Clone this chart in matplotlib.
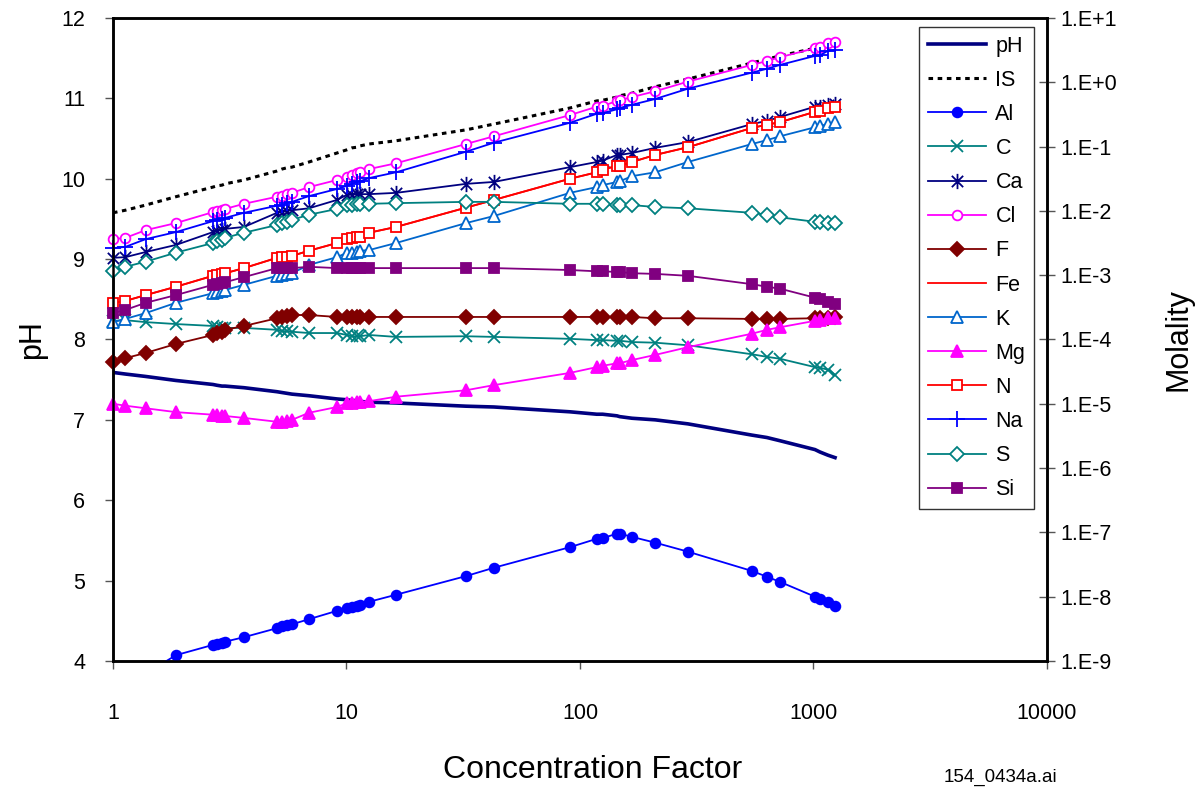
#!/usr/bin/env python3
# Evaporation path: pH (left axis) and ionic strength / molalities (right axis)
# plotted against the concentration factor.

import numpy as np
import matplotlib
matplotlib.use("Agg")
import matplotlib.pyplot as plt
from matplotlib.path import Path
from matplotlib.ticker import FixedLocator, FixedFormatter, NullLocator

plt.rcParams['font.family'] = ['Liberation Sans', 'DejaVu Sans']

nan = np.nan

# concentration factor of every modelled step
cf = [1.0, 1.13, 1.38, 1.86, 2.68, 2.79, 2.93, 3.02, 3.64, 5.04, 5.29, 5.56,
      5.84, 6.91, 9.11, 10.05, 10.56, 11.09, 11.42, 12.49, 16.3, 32.5, 42.8,
      90.6, 118, 125, 144, 148, 167, 210, 290, 545, 632, 719, 1015, 1066,
      1154, 1237]

ph = [7.59, 7.57, 7.54, 7.49, 7.44, 7.43, 7.42, 7.42, 7.40, 7.35, 7.34, 7.33,
      7.32, 7.30, 7.26, 7.25, 7.24, 7.24, 7.23, 7.22, 7.21, 7.17, 7.16, 7.10,
      7.07, 7.07, 7.05, 7.04, 7.02, 7.00, 6.95, 6.81, 6.78, 6.74, 6.63, 6.60,
      6.56, 6.53]

# log10 of ionic strength and molalities
log_is = [-2.03, -1.99, -1.91, -1.78, -1.63, -1.61, -1.60, -1.58, -1.52, -1.38,
          -1.35, -1.33, -1.32, -1.24, -1.10, -1.05, -1.02, -1.01, -0.99, -0.96,
          -0.91, -0.74, -0.65, -0.40, -0.29, -0.28, -0.23, -0.21, -0.17, -0.07,
          0.05, 0.30, 0.36, 0.41, 0.53, 0.55, 0.58, 0.61]
log_al = [nan, nan, -9.20, -8.91, -8.75, -8.74, -8.72, -8.70, -8.63, -8.49,
          -8.46, -8.44, -8.43, -8.35, -8.22, -8.18, -8.16, -8.14, -8.13, -8.08,
          -7.97, -7.68, -7.55, -7.23, -7.10, -7.09, -7.02, -7.02, -7.07, -7.16,
          -7.30, -7.60, -7.69, -7.77, -8.00, -8.03, -8.08, -8.15]
log_c = [-3.71, -3.70, -3.73, -3.76, -3.79, -3.81, -3.82, -3.82, -3.82, -3.85,
         -3.87, -3.87, -3.88, -3.90, -3.90, -3.93, -3.95, -3.95, -3.95, -3.93,
         -3.96, -3.95, -3.96, -3.99, -4.01, -4.01, -4.02, -4.02, -4.04, -4.05,
         -4.09, -4.23, -4.27, -4.30, -4.43, -4.44, -4.47, -4.55]
log_ca = [-2.73, -2.72, -2.64, -2.53, -2.33, -2.31, -2.30, -2.28, -2.25, -2.03,
          -2.02, -2.00, -1.99, -1.96, -1.83, -1.75, -1.75, -1.74, -1.74, -1.74,
          -1.72, -1.58, -1.55, -1.32, -1.24, -1.22, -1.13, -1.13, -1.10, -1.02,
          -0.93, -0.65, -0.60, -0.54, -0.38, -0.38, -0.35, -0.34]
log_cl = [-2.44, -2.42, -2.30, -2.19, -2.02, -2.00, -1.99, -1.97, -1.89, -1.78,
          -1.77, -1.74, -1.72, -1.63, -1.52, -1.47, -1.44, -1.41, -1.40, -1.35,
          -1.26, -0.96, -0.84, -0.51, -0.38, -0.37, -0.29, -0.28, -0.23, -0.14,
          0.01, 0.27, 0.33, 0.39, 0.53, 0.55, 0.61, 0.63]
log_f = [-4.35, -4.29, -4.21, -4.07, -3.93, -3.90, -3.88, -3.85, -3.79, -3.67,
         -3.65, -3.64, -3.62, -3.62, -3.65, -3.65, -3.65, -3.65, -3.65, -3.65,
         -3.65, -3.65, -3.65, -3.65, -3.65, -3.65, -3.65, -3.65, -3.65, -3.67,
         -3.67, -3.68, -3.68, -3.68, -3.67, -3.67, -3.67, -3.65]
log_fe = [-3.43, -3.40, -3.31, -3.18, -3.01, -3.00, -2.98, -2.97, -2.89, -2.73,
          -2.72, -2.72, -2.70, -2.62, -2.50, -2.44, -2.42, -2.41, -2.41, -2.34,
          -2.25, -1.95, -1.83, -1.50, -1.40, -1.36, -1.30, -1.30, -1.24, -1.13,
          -1.01, -0.71, -0.66, -0.62, -0.46, -0.45, -0.40, -0.38]
log_k = [-3.73, -3.68, -3.59, -3.43, -3.28, -3.26, -3.25, -3.23, -3.15, -3.01,
         -3.00, -2.98, -2.97, -2.84, -2.72, -2.65, -2.65, -2.64, -2.62, -2.61,
         -2.50, -2.19, -2.08, -1.72, -1.63, -1.60, -1.55, -1.54, -1.46, -1.40,
         -1.24, -0.96, -0.90, -0.84, -0.70, -0.68, -0.65, -0.62]
log_mg = [-5.00, -5.03, -5.07, -5.13, -5.17, -5.17, -5.19, -5.19, -5.22, -5.28,
          -5.28, -5.27, -5.25, -5.14, -5.05, -4.99, -4.99, -4.97, -4.97, -4.96,
          -4.89, -4.79, -4.71, -4.52, -4.43, -4.41, -4.37, -4.37, -4.32, -4.24,
          -4.12, -3.91, -3.85, -3.81, -3.71, -3.70, -3.67, -3.67]
log_n = [-3.43, -3.40, -3.31, -3.18, -3.01, -3.00, -2.98, -2.97, -2.89, -2.73,
         -2.72, -2.72, -2.70, -2.62, -2.50, -2.44, -2.42, -2.41, -2.41, -2.34,
         -2.25, -1.95, -1.83, -1.50, -1.40, -1.36, -1.30, -1.30, -1.24, -1.13,
         -1.01, -0.71, -0.66, -0.62, -0.46, -0.45, -0.40, -0.38]
log_na = [-2.58, -2.56, -2.44, -2.33, -2.16, -2.14, -2.13, -2.11, -2.03, -1.92,
          -1.91, -1.88, -1.86, -1.77, -1.66, -1.61, -1.58, -1.55, -1.54, -1.49,
          -1.40, -1.08, -0.94, -0.63, -0.49, -0.48, -0.42, -0.40, -0.35, -0.26,
          -0.10, 0.15, 0.21, 0.27, 0.41, 0.42, 0.49, 0.50]
log_s = [-2.93, -2.87, -2.79, -2.65, -2.50, -2.47, -2.45, -2.42, -2.34, -2.22,
         -2.19, -2.17, -2.14, -2.06, -1.97, -1.91, -1.91, -1.89, -1.89, -1.89,
         -1.88, -1.86, -1.86, -1.89, -1.89, -1.89, -1.91, -1.91, -1.91, -1.94,
         -1.96, -2.03, -2.06, -2.10, -2.17, -2.17, -2.19, -2.19]
log_si = [-3.59, -3.54, -3.43, -3.31, -3.15, -3.14, -3.12, -3.11, -3.03, -2.89,
          -2.89, -2.89, -2.89, -2.87, -2.89, -2.89, -2.89, -2.89, -2.89, -2.89,
          -2.89, -2.89, -2.89, -2.92, -2.94, -2.94, -2.95, -2.95, -2.97, -2.98,
          -3.01, -3.14, -3.18, -3.21, -3.35, -3.37, -3.42, -3.45]

x_ticks = [1, 10, 100, 1000, 10000]
x_labels = ['1', '10', '100', '1000', '10000']
ph_ticks = [4, 5, 6, 7, 8, 9, 10, 11, 12]
mol_exps = list(range(-9, 2))

# Excel style asterisk: an x with a vertical bar through it
ASTERISK = Path([(-1, -1), (1, 1), (-1, 1), (1, -1), (0, -1.35), (0, 1.35)],
                [Path.MOVETO, Path.LINETO] * 3)


def main():
    fig = plt.figure(figsize=(12.03, 7.88), dpi=100)
    ax = fig.add_axes([0.0939, 0.1612, 0.7764, 0.8160])
    ax2 = ax.twinx()

    x = np.array(cf)
    ph_line, = ax.plot(x, ph, color='#000080', lw=2.6, label='pH')

    # (label, values, colour, marker, size, filled)
    species = [
        ('IS', log_is, 'black', None, 0, True),
        ('Al', log_al, '#0000FF', 'o', 7, True),
        ('C', log_c, '#008080', 'x', 8, True),
        ('Ca', log_ca, '#000080', ASTERISK, 11, True),
        ('Cl', log_cl, '#FF00FF', 'o', 7, False),
        ('F', log_f, '#800000', 'D', 7, True),
        ('Fe', log_fe, '#FF0000', None, 0, True),
        ('K', log_k, '#0066CC', '^', 8.5, False),
        ('Mg', log_mg, '#FF00FF', '^', 8.5, True),
        ('N', log_n, '#FF0000', 's', 7, False),
        ('Na', log_na, '#0000FF', '+', 11, True),
        ('S', log_s, '#008080', 'D', 7, False),
        ('Si', log_si, '#800080', 's', 7, True),
    ]

    handles = [ph_line]
    for name, vals, col, mk, ms, filled in species:
        y = 10.0 ** np.array(vals)
        if name == 'IS':
            h, = ax2.plot(x, y, color='black', lw=2.2, ls=(0, (1.5, 1.5)),
                          label=name)
        else:
            h, = ax2.plot(x, y, color=col, lw=1.3, marker=mk, ms=ms,
                          mfc=col if filled else 'white', mec=col, mew=1.3,
                          label=name, clip_on=(name == 'Al'))
        handles.append(h)

    # left axis: pH
    ax.set_xscale('log')
    ax.set_xlim(1, 10000)
    ax.set_ylim(4, 12)
    ax.xaxis.set_major_locator(FixedLocator(x_ticks))
    ax.xaxis.set_major_formatter(FixedFormatter(x_labels))
    ax.xaxis.set_minor_locator(NullLocator())
    ax.yaxis.set_major_locator(FixedLocator(ph_ticks))
    ax.tick_params(axis='both', direction='out', length=6, width=1,
                   color='#555555', labelsize=15.5)
    ax.tick_params(axis='x', pad=24)
    ax.tick_params(axis='y', pad=14)
    ax.set_xlabel('Concentration Factor', fontsize=23)
    ax.xaxis.set_label_coords(0.514, -0.147)
    ax.set_ylabel('pH', fontsize=22, labelpad=10)

    # right axis: molality
    ax2.set_yscale('log')
    ax2.set_ylim(1e-9, 1e1)
    ax2.yaxis.set_major_locator(FixedLocator([10.0 ** e for e in mol_exps]))
    ax2.yaxis.set_major_formatter(
        FixedFormatter(['1.E%+d' % e for e in mol_exps]))
    ax2.yaxis.set_minor_locator(NullLocator())
    ax2.tick_params(axis='y', direction='inout', length=12, width=1,
                    color='#555555', labelsize=15.5, pad=4)
    ax2.set_ylabel('Molality', fontsize=22, labelpad=33)

    for a in (ax, ax2):
        for sp in a.spines.values():
            sp.set_linewidth(1.8)
            sp.set_color('black')

    leg = ax2.legend(handles=handles, loc='upper right',
                     bbox_to_anchor=(0.986, 0.986), borderaxespad=0,
                     fontsize=15.5, frameon=True, fancybox=False,
                     handlelength=2.7, handletextpad=0.45, labelspacing=0.61,
                     borderpad=0.4)
    leg.get_frame().set_edgecolor('black')
    leg.get_frame().set_linewidth(1.0)

    fig.text(0.832, 0.008, '154_0434a.ai', fontsize=13.5, ha='center')

    fig.savefig('out.png', dpi=100)


if __name__ == "__main__":
    main()
